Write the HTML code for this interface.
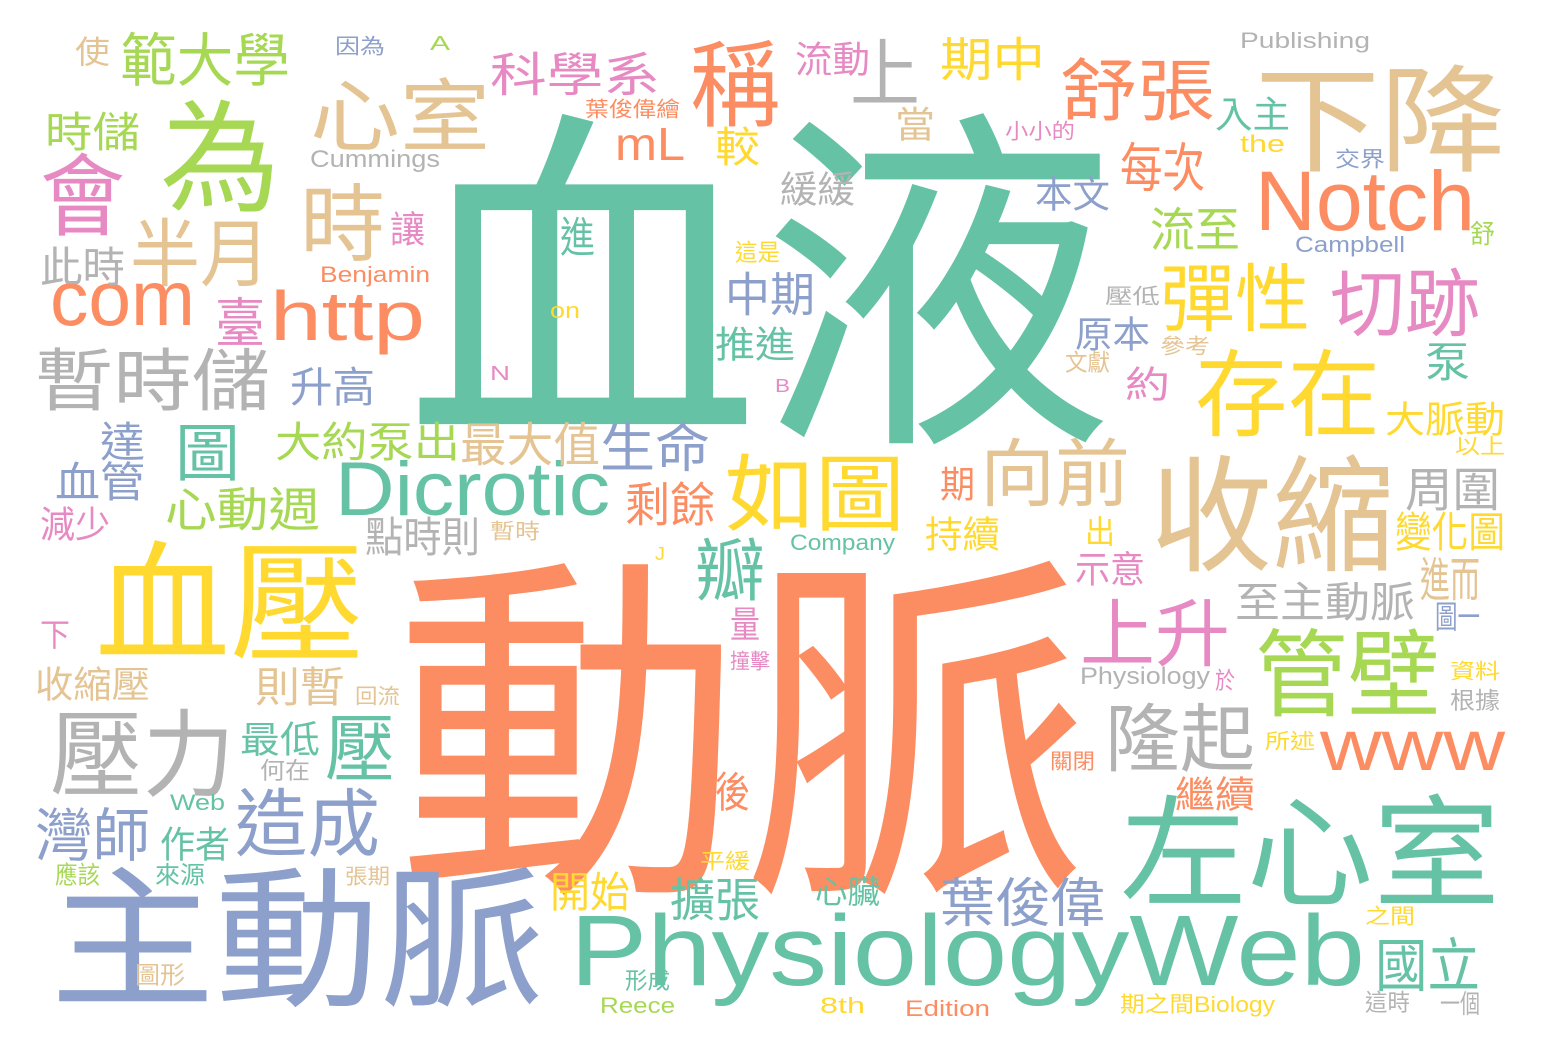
<!DOCTYPE html>
<html><head><meta charset="utf-8">
<style>
html,body{margin:0;padding:0;background:#fff;}
svg{display:block;}
text{font-family:"Liberation Sans","Noto Sans CJK TC",sans-serif;}
</style></head>
<body>
<svg id="cloud" width="1548" height="1052" viewBox="0 0 1548 1052"></svg>
<script>
const T="#66c2a5",O="#fc8d62",B="#8da0cb",P="#e78ac3",G="#a6d854",Y="#ffd92f",N="#e5c494",R="#b3b3b3";
// word, x1, y1, x2, y2, color, [fontSize, baseline] for latin
const words=[
["血液",405,100,1115,440,T],["動脈",395,545,1090,890,O],["主動脈",50,860,545,1005,B],
["PhysiologyWeb",570,905,1365,1010,T,100,985],["Dicrotic",335,460,610,525,T,76,515],
["左心室",1120,790,1500,905,T],["管壁",1255,625,1440,715,G],["國立",1375,935,1480,990,T],
["心動週",165,485,320,530,G],["生命",600,420,710,470,B],["大約泵出",275,420,460,460,G],
["流動",795,40,870,75,P],["心臟",815,875,880,905,T],["原本",1075,315,1150,350,B],
["升高",290,365,375,405,B],["血管",55,460,145,500,B],["達",100,420,145,460,B],
["本文",1035,175,1110,210,B],["Campbell",1295,235,1405,255,B,22,252],["交界",1335,148,1385,168,B],
["圖一",1435,600,1480,630,B],["因為",335,35,385,55,B],["壓",325,710,395,780,T],
["臺",215,295,265,345,P],["圖",175,420,240,480,T],["擴張",670,875,760,920,T],
["瓣",695,535,765,600,T],["推進",715,325,795,360,T],["葉俊偉",940,875,1105,925,B],
["泵",1425,340,1470,380,T],["至主動脈",1235,580,1415,620,R],["示意",1075,550,1145,585,P],
["心室",310,75,490,150,N],["為",160,95,280,210,G],["會",40,150,125,235,P],
["半月",130,215,270,285,N],["時",300,180,385,260,N],["com",50,285,195,330,O,78,325],
["http",270,295,425,350,O,70,340],["暫時儲",35,345,270,410,R],["範大學",120,30,290,85,G],
["使",75,35,110,65,N],["時儲",45,110,140,150,G],["此時",40,245,125,285,R],
["科學系",490,50,660,95,P],["稱",690,35,780,125,O],["上",850,35,920,105,R],
["期中",940,35,1045,80,Y],["舒張",1060,55,1215,120,O],["下降",1255,60,1505,170,N],
["mL",615,130,685,165,O,46,160],["較",715,125,760,165,Y],["當",895,105,935,140,N],
["小小的",1005,120,1075,140,P],["入主",1215,95,1290,130,T],["the",1240,135,1285,155,Y,24,152],
["Cummings",310,150,440,170,R,24,167],["緩緩",780,170,855,205,R],["每次",1120,140,1205,190,O],
["Notch",1255,170,1475,235,O,84,230],["讓",390,210,425,245,P],["進",560,215,595,255,T],
["這是",735,240,780,262,Y],["流至",1150,205,1240,250,G],["舒",1470,220,1495,245,G],
["彈性",1160,260,1310,330,Y],["切跡",1330,265,1480,335,P],["Benjamin",320,265,430,285,O,22,282],
["中期",725,270,815,315,B],["on",550,300,580,320,Y,22,318],["壓低",1105,285,1160,305,R],
["參考",1160,335,1210,355,N],["文獻",1065,350,1110,372,N],["N",490,362,510,380,P,20,380],
["B",775,375,790,392,P,18,392],["存在",1195,345,1380,435,Y],["約",1125,365,1170,400,P],
["大脈動",1385,400,1505,435,Y],["以上",1455,435,1505,455,Y],["最大值",460,420,600,465,N],
["如圖",725,450,905,530,Y],["向前",980,435,1130,505,N],["期",940,465,975,500,O],
["收縮",1150,450,1395,570,N],["周圍",1405,465,1500,510,R],["剩餘",625,480,715,525,O],
["點時則",365,515,480,555,R],["暫時",490,520,540,540,N],["J",655,545,665,560,Y,18,560],
["Company",790,535,895,555,T,22,550],["持續",925,515,1000,550,Y],["出",1085,515,1115,545,Y],
["變化圖",1395,510,1505,550,Y],["進而",1420,555,1480,600,N],["減少",40,505,110,540,P],
["血壓",95,535,365,660,Y],["量",730,605,760,640,P],["撞擊",730,650,770,670,P],
["上升",1080,595,1230,665,P],["下",40,618,70,648,P],["收縮壓",35,665,150,700,N],
["則暫",255,665,345,705,N],["回流",355,685,400,705,N],["Physiology",1080,665,1210,690,R,24,684],
["於",1215,668,1235,690,P],["資料",1450,660,1500,680,Y],["根據",1450,688,1500,710,R],
["壓力",50,705,235,795,R],["最低",240,720,320,755,T],["隆起",1105,700,1255,770,R],
["www",1320,725,1505,770,O,72,770],["所述",1265,730,1315,750,Y],["關閉",1050,750,1095,770,O],
["何在",260,758,310,780,R],["Web",170,792,225,810,T,22,810],["後",715,770,750,810,O],
["繼續",1175,775,1255,810,O],["造成",235,785,380,855,B],["灣師",35,805,150,860,B],
["作者",160,825,230,860,T],["平緩",700,850,750,870,Y],["應該",55,862,100,885,G],
["來源",155,862,205,885,T],["張期",345,865,390,885,N],["開始",550,870,630,910,Y],
["之間",1365,905,1415,925,Y],["圖形",135,962,185,985,N],["形成",625,968,670,990,T],
["Reece",600,995,675,1015,G,22,1013],["8th",820,995,865,1015,Y,22,1013],
["Edition",905,995,990,1020,O,22,1016],["期之間Biology",1120,990,1275,1015,Y,22,1012],
["這時",1365,990,1410,1012,R],["一個",1440,990,1480,1015,R],
["Publishing",1240,30,1370,52,R,22,48],["A",430,33,450,50,G,20,50],["葉俊偉繪",585,98,680,118,O]
];
const svg=document.getElementById('cloud');
const NS="http://www.w3.org/2000/svg";
words.forEach(w=>{
  const [s,x1,y1,x2,y2,c]=w;
  const h=y2-y1;
  let size,base;
  if(w.length>6){size=w[6];base=w[7];}
  else{size=h/0.95;base=y2-0.07*size;}
  const t=document.createElementNS(NS,'text');
  t.setAttribute('x',x1);
  t.setAttribute('y',base.toFixed(1));
  t.setAttribute('font-size',size.toFixed(1));
  t.setAttribute('fill',c);
  t.setAttribute('textLength',x2-x1);
  t.setAttribute('lengthAdjust','spacingAndGlyphs');
  
  
  t.textContent=s;
  svg.appendChild(t);
});
</script>
</body></html>
